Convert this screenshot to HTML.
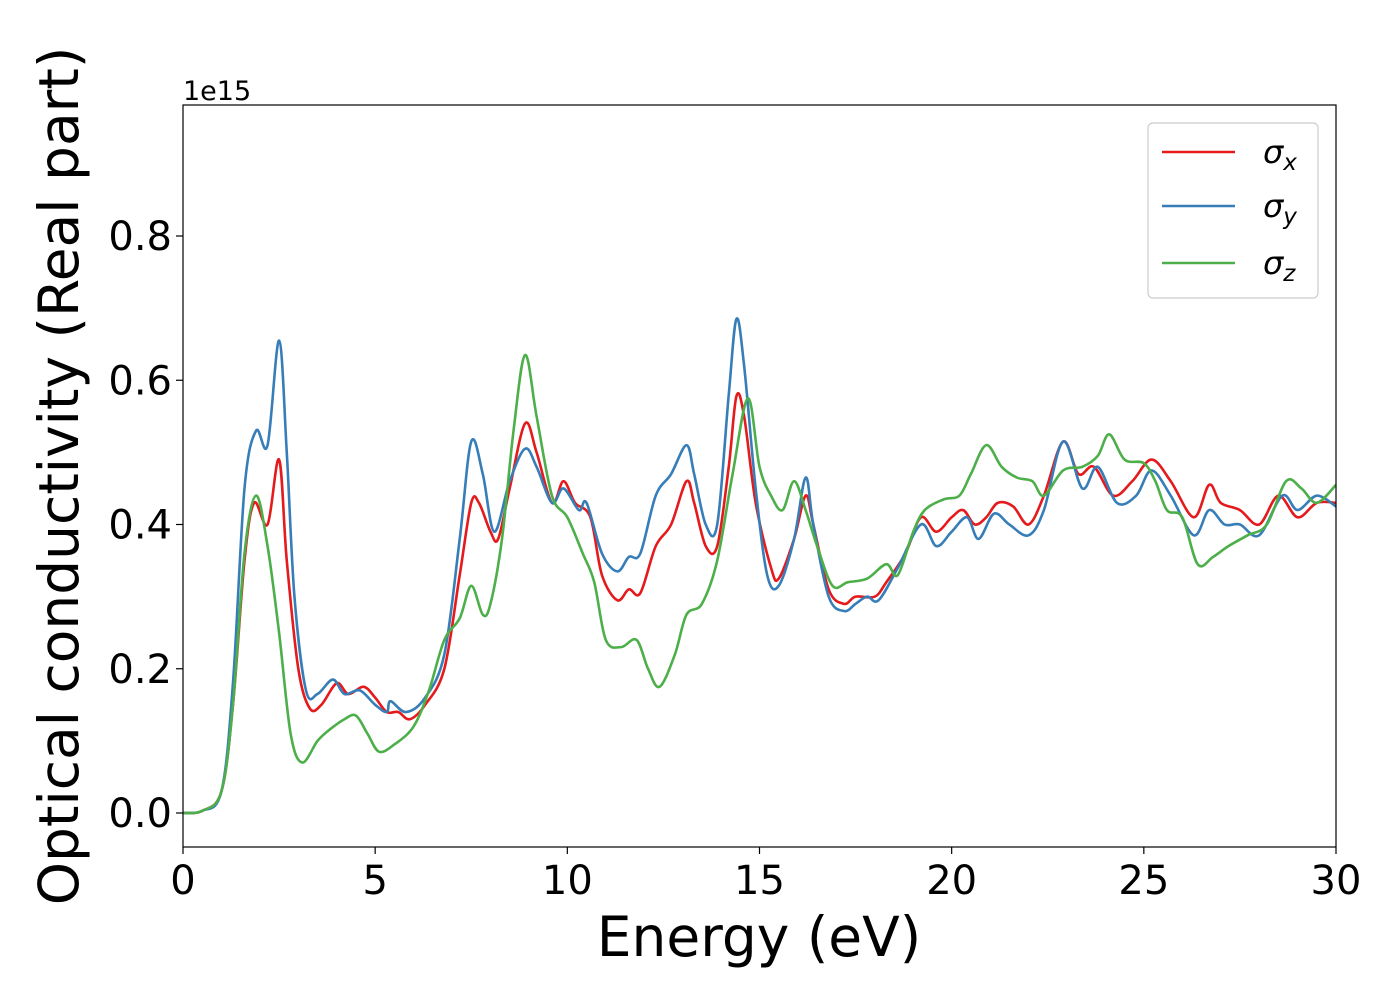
<!DOCTYPE html>
<html><head><meta charset="utf-8"><style>
html,body{margin:0;padding:0;background:#fff;}
svg{display:block;font-family:"DejaVu Sans","Liberation Sans",sans-serif;}
</style></head><body>
<svg id="chart" width="1400" height="1000" viewBox="0 0 1400 1000">
<rect x="0" y="0" width="1400" height="1000" fill="#fff"/>
<g id="plot"></g>
<g id="axes"></g>
</svg>
<script>
const energyX = [0,0.5,1,1.3,1.6,1.85,2.2,2.5,2.7,3,3.3,3.6,4,4.3,4.7,5,5.3,5.6,5.9,6.3,6.8,7.2,7.5,7.7,8,8.2,8.5,8.9,9.2,9.6,9.9,10.2,10.6,10.9,11.3,11.6,11.9,12.3,12.7,13.1,13.3,13.6,13.9,14.2,14.4,14.6,14.9,15.3,15.5,15.9,16.2,16.4,16.8,17.2,17.5,18,18.3,18.8,19.2,19.6,20,20.3,20.6,20.9,21.2,21.6,22,22.4,22.9,23.3,23.7,24.2,24.7,25.2,25.7,26.3,26.7,27,27.5,28,28.5,29,29.5,30];
const sigmaX = [0,0.003,0.03,0.15,0.35,0.43,0.40,0.49,0.35,0.2,0.145,0.15,0.18,0.165,0.175,0.16,0.14,0.14,0.13,0.15,0.2,0.33,0.43,0.43,0.39,0.38,0.45,0.54,0.50,0.43,0.46,0.43,0.41,0.33,0.295,0.31,0.305,0.37,0.40,0.46,0.43,0.37,0.37,0.48,0.578,0.55,0.43,0.34,0.325,0.38,0.44,0.40,0.31,0.29,0.30,0.30,0.32,0.36,0.41,0.39,0.41,0.42,0.40,0.41,0.43,0.425,0.40,0.44,0.515,0.47,0.48,0.44,0.46,0.49,0.46,0.41,0.455,0.43,0.42,0.40,0.44,0.41,0.43,0.43];
const energyY = [0,0.5,1,1.3,1.6,1.9,2.2,2.5,2.7,2.9,3.2,3.5,3.9,4.2,4.6,5,5.3,5.4,5.8,6.3,6.8,7.2,7.5,7.8,8.1,8.5,8.9,9.2,9.6,9.9,10.3,10.5,10.9,11.3,11.6,11.9,12.3,12.7,13.1,13.3,13.6,13.9,14.2,14.4,14.6,14.9,15.2,15.5,15.9,16.2,16.4,16.8,17.2,17.5,17.8,18.1,18.6,19.2,19.6,20,20.4,20.7,21.1,21.5,22,22.4,22.9,23.4,23.8,24.3,24.8,25.2,25.7,26.3,26.7,27.1,27.5,28,28.6,29,29.5,30];
const sigmaY = [0,0.003,0.03,0.18,0.45,0.53,0.51,0.655,0.5,0.3,0.17,0.165,0.185,0.165,0.17,0.15,0.14,0.155,0.14,0.16,0.22,0.38,0.515,0.47,0.39,0.46,0.505,0.48,0.43,0.45,0.42,0.43,0.36,0.335,0.355,0.36,0.44,0.47,0.51,0.47,0.40,0.40,0.58,0.685,0.62,0.45,0.33,0.315,0.38,0.465,0.40,0.30,0.28,0.29,0.30,0.295,0.34,0.40,0.37,0.39,0.41,0.38,0.415,0.40,0.385,0.42,0.515,0.45,0.48,0.43,0.44,0.475,0.44,0.385,0.42,0.40,0.40,0.385,0.44,0.42,0.44,0.425];
const energyZ = [0,0.5,1,1.3,1.6,1.9,2.2,2.5,2.8,3.1,3.5,3.8,4.2,4.5,4.8,5.1,5.5,6,6.4,6.8,7.2,7.5,7.8,8,8.3,8.6,8.9,9.2,9.6,10,10.4,10.7,11,11.4,11.8,12.1,12.4,12.8,13.1,13.5,13.9,14.3,14.7,15,15.3,15.6,15.9,16.2,16.5,16.9,17.3,17.8,18.3,18.6,19,19.3,19.8,20.2,20.5,20.9,21.3,21.7,22.1,22.4,22.9,23.4,23.8,24.1,24.5,25,25.3,25.6,26,26.4,26.8,27.2,27.7,28.2,28.7,29.1,29.5,30];
const sigmaZ = [0,0.003,0.03,0.15,0.36,0.44,0.37,0.25,0.11,0.07,0.10,0.115,0.13,0.135,0.11,0.085,0.095,0.12,0.17,0.24,0.27,0.315,0.275,0.29,0.38,0.53,0.635,0.55,0.44,0.41,0.36,0.32,0.24,0.23,0.24,0.20,0.175,0.22,0.275,0.29,0.35,0.47,0.575,0.48,0.44,0.42,0.46,0.42,0.37,0.315,0.32,0.325,0.345,0.33,0.39,0.42,0.435,0.44,0.47,0.51,0.48,0.465,0.46,0.44,0.475,0.48,0.495,0.525,0.49,0.485,0.46,0.42,0.41,0.345,0.355,0.37,0.385,0.40,0.46,0.45,0.43,0.455];
const xTicks = [0,5,10,15,20,25,30];
const yTicks = [0,0.2,0.4,0.6,0.8];
const yTickLabels = ["0.0","0.2","0.4","0.6","0.8"];

const L=183,R=1336,T=105,B=847;
const xs = v => L + (v-0)/(30-0)*(R-L);
const ys = v => 813 - v/0.8*(813-236);
const NS="http://www.w3.org/2000/svg";
function mk(tag, attrs, parent){const e=document.createElementNS(NS,tag);for(const k in attrs)e.setAttribute(k,attrs[k]);parent.appendChild(e);return e;}
function smoothPath(X,Y){
  const p=X.map((x,i)=>[xs(x),ys(Y[i])]);
  let d=`M${p[0][0]},${p[0][1]}`;
  for(let i=0;i<p.length-1;i++){
    const p0=p[i-1]||p[i],p1=p[i],p2=p[i+1],p3=p[i+2]||p[i+1];
    const c1=[p1[0]+(p2[0]-p0[0])/6,p1[1]+(p2[1]-p0[1])/6];
    const c2=[p2[0]-(p3[0]-p1[0])/6,p2[1]-(p3[1]-p1[1])/6];
    d+=`C${c1[0]},${c1[1]} ${c2[0]},${c2[1]} ${p2[0]},${p2[1]}`;
  }
  return d;
}
const plot=document.getElementById('plot');
const axes=document.getElementById('axes');
const defs=mk('defs',{},plot);
const cp=mk('clipPath',{id:'clip'},defs);
mk('rect',{x:L,y:T,width:R-L,height:B-T},cp);
const series=[[energyX,sigmaX,'#e41a1c','sigma-x-line'],[energyY,sigmaY,'#377eb8','sigma-y-line'],[energyZ,sigmaZ,'#4daf4a','sigma-z-line']];
series.forEach(s=>{
  const p=mk('path',{d:smoothPath(s[0],s[1]),fill:'none',stroke:s[2],'stroke-width':2.6,'clip-path':'url(#clip)'},plot);
  
  
});
const frame=mk('rect',{x:L,y:T,width:R-L,height:B-T,fill:'none',stroke:'#000','stroke-width':1.2},axes);


xTicks.forEach(t=>{
  const tk=mk('line',{x1:xs(t),x2:xs(t),y1:B,y2:B+7,stroke:'#000','stroke-width':1.2},axes);
  
  
  const lb=mk('text',{x:xs(t),y:894,'font-size':40,'text-anchor':'middle',fill:'#000'},axes);
  lb.textContent=t;
  
  
});
yTicks.forEach((t,i)=>{
  const tk=mk('line',{x1:L-7,x2:L,y1:ys(t),y2:ys(t),stroke:'#000','stroke-width':1.2},axes);
  
  
  const lb=mk('text',{x:172,y:ys(t)+14,'font-size':40,'text-anchor':'end',fill:'#000'},axes);
  lb.textContent=yTickLabels[i];
  
  
});
</script>
<svg width="0" height="0" style="position:absolute"></svg>
<div style="position:absolute;left:0;top:0;width:1400px;height:1000px;pointer-events:none">
<svg width="1400" height="1000" style="font-family:'DejaVu Sans','Liberation Sans',sans-serif">
<text x="183" y="100" font-size="27">1e15</text>
<text x="759" y="956" font-size="55" text-anchor="middle">Energy (eV)</text>
<text transform="translate(78,476) rotate(-90)" font-size="55" text-anchor="middle">Optical conductivity (Real part)</text>
<g>
<rect x="1148" y="123" width="170" height="175" rx="5" fill="#fff" fill-opacity="0.8" stroke="#ccc" stroke-width="1.2"/>
<g><line x1="1162" x2="1235" y1="152" y2="152" stroke="#e41a1c" stroke-width="2.6"/><text x="1263" y="163" font-size="32" font-style="italic">σ<tspan font-size="23" dy="7">x</tspan></text></g>
<g><line x1="1162" x2="1235" y1="206" y2="206" stroke="#377eb8" stroke-width="2.6"/><text x="1263" y="217" font-size="32" font-style="italic">σ<tspan font-size="23" dy="7">y</tspan></text></g>
<g><line x1="1162" x2="1235" y1="263" y2="263" stroke="#4daf4a" stroke-width="2.6"/><text x="1263" y="274" font-size="32" font-style="italic">σ<tspan font-size="23" dy="7">z</tspan></text></g>
</g>
</svg>
</div>
</body></html>
